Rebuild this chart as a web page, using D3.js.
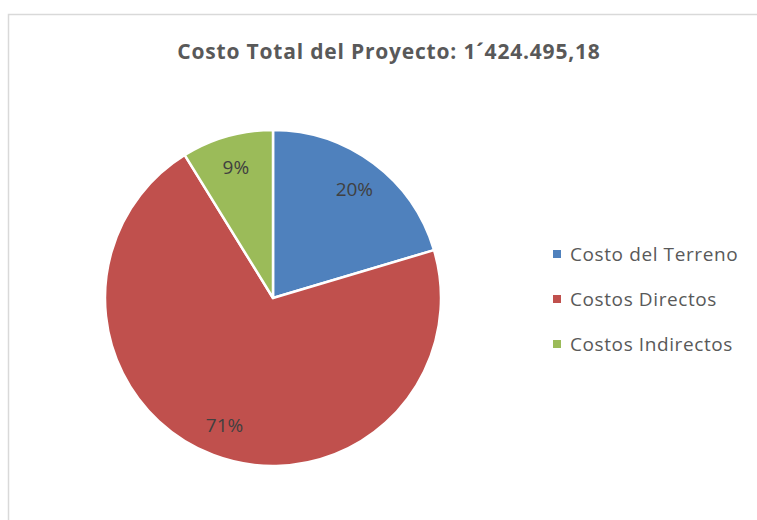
<!DOCTYPE html>
<html>
  <head>
    <meta charset="utf-8">
    <title>Costo Total del Proyecto</title>
    <script src="https://d3js.org/d3.v7.min.js"></script>
    <style>
      body { margin: 0; background: #fff; font-family: "Open Sans", Lato, sans-serif; }
      #chart { display: block; }
    </style>
  </head>
  <body>
    <svg id="chart" width="757" height="520"></svg>
    <script>
      // data
      const titleText = "Costo Total del Proyecto: 1´424.495,18";
      const categories = ["Costo del Terreno", "Costos Directos", "Costos Indirectos"];
      const shares = [20.4, 70.8, 8.8];
      const pctLabels = ["20%", "71%", "9%"];
      const colors = ["#4f81bd", "#c0504d", "#9bbb59"];

      const svg = d3.select("#chart");

      // chart area border
      svg.append("rect")
        .attr("x", 8.5).attr("y", 14.5)
        .attr("width", 800).attr("height", 560)
        .attr("fill", "#fff")
        .attr("stroke", "#d9d9d9")
        .attr("stroke-width", 1.5);

      svg.append("text")
        .attr("x", 389).attr("y", 59)
        .attr("text-anchor", "middle")
        .attr("font-size", 21)
        .attr("font-weight", "bold")
        .attr("letter-spacing", 0.8)
        .attr("fill", "#595959")
        .text(titleText);

      const cx = 273, cy = 298, r = 168;
      const pie = d3.pie().sort(null).value(d => d)(shares);
      const arc = d3.arc().innerRadius(0).outerRadius(r);
      const labelArc = d3.arc().innerRadius(r * 0.81).outerRadius(r * 0.81);

      const g = svg.append("g").attr("transform", "translate(" + cx + "," + cy + ")");
      g.selectAll("path")
        .data(pie)
        .join("path")
          .attr("d", arc)
          .attr("fill", (d, i) => colors[i])
          .attr("stroke", "#fff")
          .attr("stroke-width", 2.5)
          .attr("stroke-linejoin", "round");

      g.selectAll("text")
        .data(pie)
        .join("text")
          .attr("transform", d => "translate(" + labelArc.centroid(d) + ")")
          .attr("text-anchor", "middle")
          .attr("dy", "0.35em")
          .attr("font-size", 19)
          .attr("fill", "#404040")
          .text((d, i) => pctLabels[i]);

      // legend
      const legend = svg.append("g");
      const rowY = d3.scalePoint().domain(categories).range([254, 344]);
      const rows = legend.selectAll("g")
        .data(categories)
        .join("g")
          .attr("transform", d => "translate(553," + rowY(d) + ")");
      rows.append("rect")
        .attr("x", 0).attr("y", -4)
        .attr("width", 8).attr("height", 8)
        .attr("fill", (d, i) => colors[i]);
      rows.append("text")
        .attr("x", 17)
        .attr("dy", "0.35em")
        .attr("font-size", 19)
        .attr("letter-spacing", 0.6)
        .attr("fill", "#595959")
        .text(d => d);
    </script>
  </body>
</html>
